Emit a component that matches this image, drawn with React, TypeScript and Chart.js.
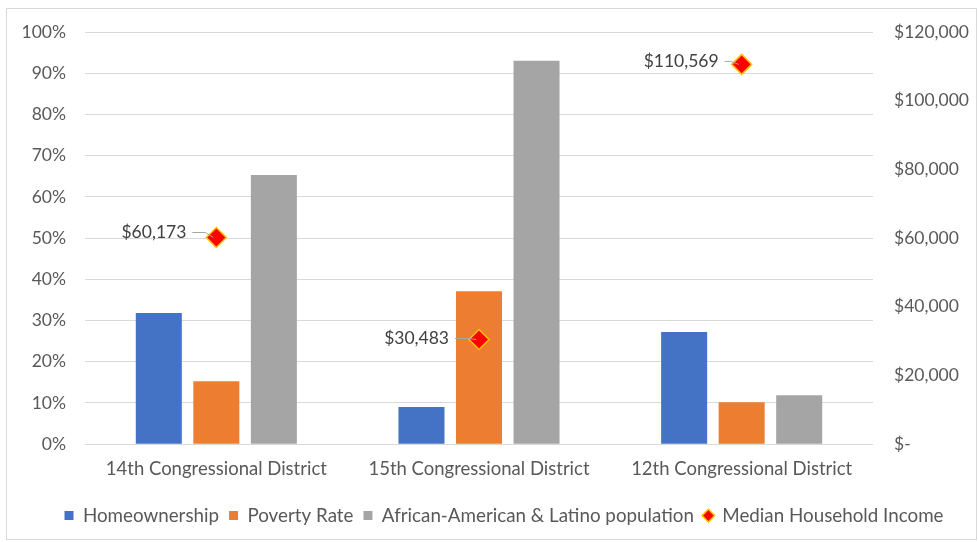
import React, { useEffect, useRef } from "react";
import { Chart, registerables } from "chart.js";

Chart.register(...registerables);

const categories = ["14th Congressional District", "15th Congressional District", "12th Congressional District"];
const homeownership = [0.318, 0.09, 0.272];
const povertyRate = [0.153, 0.371, 0.102];
const minorityPopulation = [0.653, 0.93, 0.119];
const medianIncome = [60173, 30483, 110569];
const seriesNames = ["Homeownership", "Poverty Rate", "African-American & Latino population", "Median Household Income"];

const FONT = "Lato, 'Open Sans', sans-serif";
const TEXT = "#595959";

const fmtMoney = (v: number) => (v === 0 ? "$-" : "$" + v.toLocaleString("en-US"));

// label placement relative to its marker (left gap, vertical shift)
const labelGap = [30, 30, 23];
const labelShift = [-5, -1, -3];
const LEGEND_SHIFT = 15;

const labelPlugin = {
  id: "incomeLabels",
  afterLayout(chart: any) {
    const lg = chart.legend;
    if (lg) {
      lg.left += LEGEND_SHIFT;
      lg.right += LEGEND_SHIFT;
    }
  },
  afterDatasetsDraw(chart: any) {
    const meta = chart.getDatasetMeta(3);
    const ctx = chart.ctx;
    ctx.save();
    ctx.font = `17.5px ${FONT}`;
    ctx.textAlign = "right";
    ctx.textBaseline = "middle";
    meta.data.forEach((pt: any, i: number) => {
      const x = pt.x;
      const y = pt.y;
      const tx = x - labelGap[i];
      const ty = y + labelShift[i];
      ctx.fillStyle = "#404040";
      ctx.fillText(fmtMoney(medianIncome[i]), tx, ty);
      ctx.strokeStyle = "#a6a6a6";
      ctx.lineWidth = 1;
      ctx.beginPath();
      ctx.moveTo(tx + 6, ty);
      ctx.lineTo(x - 11, ty);
      ctx.lineTo(x - 3, y);
      ctx.stroke();
    });
    ctx.restore();
  },
};

export default function App() {
  const ref = useRef<HTMLCanvasElement>(null);
  useEffect(() => {
    if (!ref.current) return;
    const chart = new Chart(ref.current, {
      type: "bar",
      data: {
        labels: categories,
        datasets: [
          { type: "bar", label: seriesNames[0], data: homeownership, backgroundColor: "#4472C4", yAxisID: "y", order: 1, pointStyle: "rect" } as any,
          { type: "bar", label: seriesNames[1], data: povertyRate, backgroundColor: "#ED7D31", yAxisID: "y", order: 1, pointStyle: "rect" } as any,
          { type: "bar", label: seriesNames[2], data: minorityPopulation, backgroundColor: "#A5A5A5", yAxisID: "y", order: 1, pointStyle: "rect" } as any,
          {
            type: "line",
            label: seriesNames[3],
            data: medianIncome,
            yAxisID: "y1",
            showLine: false,
            pointStyle: "rectRot",
            pointRadius: 10,
            pointBackgroundColor: "#FF0000",
            pointBorderColor: "#FFC000",
            pointBorderWidth: 1.5,
            backgroundColor: "#FF0000",
            borderColor: "#FFC000",
            borderWidth: 1,
            order: 0,
          } as any,
        ],
      },
      options: {
        responsive: false,
        animation: false,
        layout: { padding: { top: 32, bottom: 7, left: 0, right: 0 } },
        datasets: { bar: { barPercentage: 0.8, categoryPercentage: 0.657 } },
        plugins: {
          tooltip: { enabled: false },
          legend: {
            position: "bottom",
            labels: {
              usePointStyle: true,
              boxWidth: 9,
              boxHeight: 9,
              padding: 10,
              color: TEXT,
              font: { family: FONT, size: 18.8 },
              sort: (a: any, b: any) => a.datasetIndex - b.datasetIndex,
            },
          },
        },
        scales: {
          x: {
            grid: { display: false, drawTicks: false },
            border: { display: false },
            ticks: { color: TEXT, font: { family: FONT, size: 18.5 }, padding: 14, maxRotation: 0 },
            afterFit(scale: any) {
              scale.height = 52;
            },
          },
          y: {
            position: "left",
            min: 0,
            max: 1,
            grid: { color: "#d9d9d9", drawTicks: false },
            border: { display: false },
            ticks: {
              stepSize: 0.1,
              padding: 19,
              color: TEXT,
              font: { family: FONT, size: 17.5 },
              callback: (v: any) => Math.round(Number(v) * 100) + "%",
            },
            afterFit(scale: any) {
              scale.width = 85;
            },
          },
          y1: {
            position: "right",
            min: 0,
            max: 120000,
            grid: { display: false, drawTicks: false },
            border: { display: false },
            ticks: {
              stepSize: 20000,
              padding: 21,
              color: TEXT,
              font: { family: FONT, size: 17.5 },
              callback: (v: any) => fmtMoney(Number(v)),
            },
            afterFit(scale: any) {
              scale.width = 105;
            },
          },
        },
      } as any,
      plugins: [labelPlugin],
    });
    return () => chart.destroy();
  }, []);

  return (
    <div style={{ position: "absolute", left: 0, top: 0, width: 978, height: 542, background: "#fff" }}>
      <canvas ref={ref} width={978} height={542} style={{ position: "absolute", left: 0, top: 0 }} />
      <div
        style={{
          position: "absolute",
          left: 6,
          top: 8,
          width: 971,
          height: 532,
          border: "1px solid #d9d9d9",
          boxSizing: "border-box",
          pointerEvents: "none",
        }}
      />
    </div>
  );
}
